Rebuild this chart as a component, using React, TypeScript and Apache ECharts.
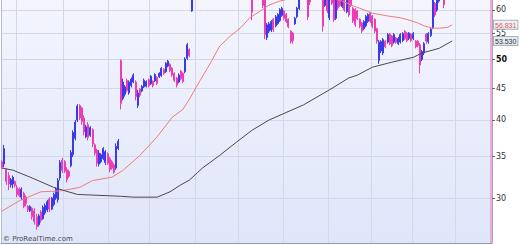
import React, { useEffect, useRef } from 'react';
import * as echarts from 'echarts';

// Daily bars (price); bars above the visible range are estimated.
const opens = [
  34.3, 34.0, 33.3, 32.6, 31.5, 31.6, 31.9, 31.2, 31.0, 30.1,
  30.5, 30.1, 29.1, 28.6, 28.9, 28.6, 28.0, 27.2, 28.5, 27.8,
  28.4, 28.7, 29.9, 28.8, 29.3, 30.0, 29.8, 32.3, 34.5, 34.3,
  33.3, 33.1, 33.8, 35.2, 37.4, 40.0, 42.2, 41.8, 40.3, 37.6,
  39.3, 37.8, 38.6, 36.5, 35.8, 34.0, 34.3, 34.7, 34.2, 35.3,
  34.7, 34.3, 33.9, 33.5, 36.0, 49.8, 43.3, 44.0, 46.3, 44.2,
  45.4, 46.0, 46.0, 42.2, 44.8, 44.5, 45.2, 45.3, 46.4, 45.7,
  46.1, 46.2, 46.8, 46.9, 47.1, 48.2, 47.8, 48.8, 49.1, 48.4,
  47.5, 46.7, 46.0, 47.9, 47.5, 47.8, 50.2, 51.9, 59.8, 64.5,
  65.5, 66.5, 66.0, 67.5, 68.5, 68.0, 69.5, 70.5, 70.0, 69.0,
  69.5, 70.5, 71.5, 70.5, 69.5, 68.5, 69.0, 67.5, 66.5, 67.0,
  66.0, 65.0, 65.5, 64.5, 65.0, 64.0, 64.0, 62.8, 64.5, 64.0,
  64.5, 63.5, 62.5, 54.2, 55.5, 55.7, 58.0, 56.6, 57.1, 57.7,
  58.8, 59.8, 59.1, 58.0, 55.5, 55.1, 57.0, 58.5, 60.3, 62.8,
  64.0, 64.5, 64.0, 62.8, 62.8, 64.0, 65.0, 65.5, 64.5, 63.5,
  61.0, 63.5, 58.3, 63.5, 62.5, 58.2, 63.0, 62.5, 60.8, 62.5,
  59.6, 62.5, 62.3, 60.4, 60.1, 59.8, 58.0, 57.2, 56.0, 56.6,
  57.5, 59.4, 58.7, 58.0, 56.0, 49.8, 51.6, 51.2, 53.5, 53.3,
  54.9, 54.5, 53.3, 54.1, 53.0, 53.3, 53.6, 55.5, 55.1, 54.0,
  54.9, 54.0, 53.5, 53.5, 52.8, 50.0, 51.2, 54.9, 53.4, 54.6,
  56.2, 61.5, 60.0, 62.0, 63.5, 64.0, 62.6, 63.5, 64.0, 63.5,
];
const highs = [
  34.5, 36.5, 33.5, 33.0, 32.3, 32.6, 32.0, 31.5, 31.2, 31.2,
  30.7, 30.3, 29.2, 29.2, 29.0, 28.9, 28.3, 28.3, 28.7, 29.2,
  29.4, 29.8, 30.1, 30.1, 30.6, 31.2, 32.3, 34.5, 34.8, 34.5,
  33.6, 33.3, 35.8, 38.5, 40.0, 42.4, 42.4, 42.0, 40.7, 39.3,
  39.7, 39.1, 38.8, 36.7, 36.0, 35.8, 35.4, 36.2, 35.8, 35.5,
  34.9, 34.5, 34.1, 36.7, 37.3, 50.0, 46.6, 45.5, 46.6, 46.3,
  46.8, 47.5, 46.3, 44.7, 45.0, 45.5, 46.6, 46.3, 46.6, 47.2,
  46.3, 47.5, 47.0, 47.7, 48.6, 48.4, 49.5, 49.9, 49.3, 48.6,
  47.7, 46.9, 47.5, 48.1, 47.7, 50.4, 53.1, 52.1, 65.5, 66.0,
  67.0, 67.5, 68.0, 69.0, 69.5, 70.0, 71.0, 71.5, 70.5, 70.0,
  71.0, 72.0, 72.0, 71.0, 70.0, 69.5, 69.5, 68.0, 67.5, 67.5,
  66.5, 66.0, 66.0, 65.5, 65.5, 65.0, 64.5, 65.0, 65.5, 65.0,
  65.0, 64.0, 63.0, 57.2, 57.4, 57.8, 58.2, 58.9, 59.3, 60.4,
  60.7, 60.0, 59.3, 58.2, 55.7, 55.3, 58.5, 60.7, 63.0, 64.5,
  65.0, 65.0, 64.5, 63.5, 64.5, 65.5, 66.0, 66.0, 65.0, 64.0,
  64.0, 64.0, 63.5, 64.0, 63.0, 63.0, 63.5, 63.0, 63.0, 63.0,
  63.0, 62.8, 62.5, 60.7, 60.4, 60.0, 58.2, 57.4, 57.8, 58.9,
  59.3, 59.6, 58.9, 58.2, 56.2, 53.7, 53.7, 54.1, 53.7, 55.1,
  55.1, 54.7, 55.1, 54.3, 54.3, 55.1, 55.3, 55.7, 55.3, 55.3,
  55.1, 55.3, 53.7, 53.7, 53.1, 51.8, 53.3, 55.1, 55.3, 56.2,
  63.0, 61.8, 63.0, 64.0, 65.0, 64.5, 64.0, 64.5, 65.0, 64.5,
];
const lows = [
  33.4, 33.6, 31.5, 30.9, 31.2, 31.1, 31.2, 30.1, 30.1, 29.8,
  28.9, 29.1, 28.5, 28.5, 27.7, 27.2, 26.7, 27.0, 27.4, 27.7,
  28.2, 28.5, 28.5, 28.7, 29.1, 29.8, 29.5, 32.0, 32.9, 32.9,
  31.8, 32.3, 33.6, 34.9, 37.1, 39.7, 40.0, 39.3, 37.8, 37.4,
  37.1, 37.6, 36.2, 35.1, 33.7, 33.7, 34.1, 34.5, 33.9, 33.9,
  33.0, 33.3, 32.8, 33.3, 35.8, 41.6, 43.0, 43.6, 44.3, 43.9,
  45.1, 45.8, 43.0, 41.8, 43.5, 44.3, 45.0, 45.1, 45.1, 45.5,
  45.1, 46.0, 45.5, 46.7, 46.9, 47.2, 47.6, 48.6, 47.7, 46.9,
  46.0, 45.1, 45.8, 46.3, 45.8, 47.5, 49.9, 50.4, 59.6, 63.8,
  64.8, 65.5, 65.5, 67.0, 67.5, 67.5, 69.0, 69.5, 68.5, 68.0,
  69.0, 70.0, 70.0, 69.0, 68.0, 67.5, 67.0, 66.0, 65.5, 65.5,
  64.5, 64.0, 64.0, 63.5, 63.5, 63.0, 57.8, 62.6, 63.5, 63.0,
  63.0, 60.4, 53.9, 53.7, 55.1, 55.3, 55.3, 56.3, 56.8, 57.4,
  58.5, 57.8, 57.2, 56.1, 53.0, 53.0, 56.8, 58.2, 60.0, 62.5,
  63.0, 63.5, 57.8, 61.1, 62.5, 63.5, 64.0, 64.0, 63.0, 55.4,
  60.7, 59.3, 57.8, 61.1, 57.4, 57.8, 60.0, 60.7, 60.4, 59.6,
  59.3, 58.5, 60.7, 57.2, 56.4, 57.8, 56.1, 55.1, 55.7, 56.3,
  57.2, 57.2, 56.1, 55.1, 53.0, 49.2, 51.2, 50.8, 52.1, 53.0,
  52.7, 52.3, 53.0, 53.0, 52.7, 53.0, 53.3, 53.7, 53.3, 53.7,
  53.3, 53.7, 52.1, 52.3, 47.5, 49.7, 50.8, 53.0, 53.0, 54.3,
  55.9, 58.5, 59.6, 61.6, 62.8, 60.4, 62.4, 62.8, 63.0, 62.6,
];
const closes = [
  33.6, 36.0, 31.9, 31.6, 32.1, 32.4, 31.4, 30.4, 30.3, 31.0,
  29.1, 29.4, 28.7, 29.1, 28.0, 27.5, 27.0, 28.1, 27.6, 29.0,
  29.2, 29.6, 28.8, 30.0, 30.4, 31.0, 32.0, 34.2, 33.2, 33.1,
  32.1, 32.5, 35.5, 38.2, 39.7, 42.1, 40.3, 39.8, 38.3, 39.0,
  37.5, 38.9, 36.6, 35.4, 34.1, 35.4, 35.2, 36.0, 35.6, 34.1,
  33.3, 33.5, 33.0, 36.3, 37.0, 42.5, 46.0, 45.2, 44.6, 46.0,
  46.5, 47.2, 43.6, 44.2, 43.8, 45.3, 46.3, 46.1, 45.4, 47.0,
  45.4, 47.3, 45.8, 47.5, 48.4, 47.5, 49.3, 49.7, 48.0, 47.2,
  46.3, 45.5, 47.2, 46.6, 46.1, 50.1, 52.8, 50.7, 64.5, 65.5,
  66.5, 66.0, 67.5, 68.5, 68.0, 69.5, 70.5, 70.0, 69.0, 69.5,
  70.5, 71.5, 70.5, 69.5, 68.5, 69.0, 67.5, 66.5, 67.0, 66.0,
  65.0, 65.5, 64.5, 65.0, 64.0, 64.5, 59.5, 64.5, 64.0, 64.5,
  63.5, 61.0, 54.8, 56.8, 57.0, 57.5, 55.8, 58.5, 59.0, 60.1,
  60.4, 58.2, 57.5, 56.4, 53.4, 53.6, 58.2, 60.4, 62.5, 64.0,
  64.5, 64.0, 58.5, 61.8, 64.0, 65.0, 65.5, 64.5, 63.5, 56.5,
  63.5, 59.8, 62.8, 61.5, 57.9, 62.5, 60.5, 61.0, 62.8, 60.0,
  62.5, 58.9, 61.0, 57.6, 56.8, 58.1, 56.5, 55.5, 57.5, 58.6,
  59.0, 57.6, 56.5, 55.5, 53.5, 53.3, 53.4, 53.8, 52.4, 54.8,
  53.0, 52.6, 54.8, 53.3, 54.0, 54.8, 55.0, 54.0, 53.6, 55.1,
  53.6, 55.0, 52.4, 52.6, 49.0, 51.5, 53.0, 53.5, 55.0, 55.9,
  62.5, 58.9, 62.5, 63.5, 64.5, 61.2, 63.5, 64.0, 63.5, 64.0,
];

// Moving averages read at sampled bar indices: [barIndex, price]
const maFast: [number, number][] = [
  [0, 28.6], [8, 29.7], [18, 30.7], [27, 30.8], [36, 31.2], [42, 32.0], [51, 32.4],
  [56, 33.2], [64, 35.1], [72, 37.6], [79, 40.4], [84, 41.6], [87, 43.2], [92, 46.3],
  [97, 49.5], [101, 52.5], [106, 54.5], [111, 56.3], [115, 58.3], [120, 59.8],
  [124, 61.1], [129, 62.0], [134, 62.6], [138, 63.0], [145, 63.0], [152, 62.7],
  [157, 62.2], [162, 61.1], [166, 60.4], [172, 59.3], [179, 58.7], [185, 58.3],
  [189, 57.8], [193, 57.2], [196, 56.6], [200, 56.1], [203, 56.1], [207, 56.3], [209, 56.831],
];
const maSlow: [number, number][] = [
  [0, 33.5], [5, 33.25], [14, 32.3], [24, 31.2], [28, 30.9], [35, 30.4], [45, 30.3],
  [55, 30.2], [61, 30.1], [72, 30.1], [77, 30.6], [78, 30.7], [83, 31.5], [87, 32.05],
  [93, 33.5], [101, 35.1], [109, 36.9], [116, 38.5], [124, 40.0], [140, 42.3],
  [152, 44.7], [161, 46.7], [165, 47.2], [172, 48.6], [181, 49.5], [191, 50.4],
  [195, 51.2], [203, 52.1], [209, 53.53],
];
const lastFast = 56.831;
const lastSlow = 53.53;

const slotCount = 228;
const categories = Array.from({ length: slotCount }, (_, i) => `D${i + 1}`);
const monthStarts = [7, 29, 50, 69, 90, 110, 131, 152, 172, 191, 211];
const tickLabels = [30, 35, 40, 45, 50, 55, 60];
const priceMin = 25.42;
const priceMax = 62.25;

const FONT = 'DejaVu Sans, Verdana, sans-serif';
const BOX_FONT = 'Liberation Sans, Arial, sans-serif';

export default function App() {
  const ref = useRef<HTMLDivElement>(null);
  useEffect(() => {
    if (!ref.current) return;
    const chart = echarts.init(ref.current, null, { renderer: 'svg' });
    const ln = Math.log;
    const tickVals = tickLabels.map((v) => ln(v));
    const candles = opens.map((o, i) => [ln(o), ln(closes[i]), ln(lows[i]), ln(highs[i])]);
    const lnMin = ln(priceMin);
    const lnMax = ln(priceMax);
    chart.setOption({
      animation: false,
      grid: {
        left: 1,
        right: 28,
        top: 0,
        bottom: 2,
        show: true,
        borderWidth: 0,
        outerBoundsMode: 'none',
        backgroundColor: new echarts.graphic.LinearGradient(0, 0, 0, 1, [
          { offset: 0, color: '#f4f5fd' },
          { offset: 1, color: '#dfe6fa' },
        ]),
      },
      xAxis: {
        type: 'category',
        data: categories,
        boundaryGap: true,
        axisLine: { show: true, lineStyle: { color: '#8d9bb2', width: 1 } },
        axisTick: { show: false },
        axisLabel: { show: false },
        splitLine: {
          show: true,
          interval: (idx: number) => monthStarts.includes(idx),
          lineStyle: { color: '#d2d8e8', width: 1 },
        },
      },
      yAxis: [
        {
          type: 'value',
          position: 'right',
          min: lnMin,
          max: lnMax,
          axisLine: { show: true, lineStyle: { color: '#9aa9c0', width: 1 } },
          axisTick: {
            show: true,
            customValues: tickVals,
            length: 3,
            lineStyle: { color: '#666' },
          },
          axisLabel: {
            show: true,
            customValues: tickVals,
            margin: 4,
            fontSize: 8,
            fontFamily: FONT,
            color: '#333',
            formatter: (v: number) => {
              const r = Math.round(Math.exp(v));
              return r === 50 ? `{b|${r}}` : `${r}`;
            },
            rich: { b: { fontSize: 8, fontWeight: 'bold', fontFamily: FONT, color: '#111' } },
          },
          splitLine: { show: true, lineStyle: { color: '#d2d8e8', width: 1 } },
        },
        {
          type: 'value',
          position: 'right',
          min: lnMin,
          max: lnMax,
          axisLine: { show: false },
          axisTick: { show: false },
          splitLine: { show: false },
          axisLabel: {
            show: true,
            customValues: [ln(lastFast), ln(lastSlow)],
            margin: 2,
            formatter: (v: number) =>
              Math.abs(v - ln(lastFast)) < 0.001
                ? `{r|${lastFast.toFixed(3)}}`
                : `{k|${lastSlow.toFixed(3)}}`,
            rich: {
              r: {
                fontSize: 7,
                fontFamily: BOX_FONT,
                color: '#e05a5a',
                backgroundColor: '#eef0f5',
                borderColor: '#a9b0bd',
                borderWidth: 1,
                padding: [1, 1, 0, 1],
              },
              k: {
                fontSize: 7,
                fontFamily: BOX_FONT,
                color: '#333',
                backgroundColor: '#e6eaf1',
                borderColor: '#a9b0bd',
                borderWidth: 1,
                padding: [1, 1, 0, 1],
              },
            },
          },
        },
        {
          type: 'value',
          position: 'left',
          min: lnMin,
          max: lnMax,
          axisLine: { show: true, lineStyle: { color: '#b0bccd', width: 1 } },
          axisTick: { show: false },
          axisLabel: { show: false },
          splitLine: { show: false },
        },
      ],
      series: [
        {
          type: 'candlestick',
          yAxisIndex: 0,
          data: candles,
          barWidth: 1.5,
          clip: true,
          itemStyle: {
            color: '#6464f2',
            color0: '#f27ad0',
            borderColor: '#3a3ae8',
            borderColor0: '#ee3cb4',
            borderWidth: 1,
          },
          markLine: {
            silent: true,
            symbol: 'none',
            label: { show: false },
            lineStyle: { color: '#f3a8d8', width: 2, type: 'solid' },
            data: [{ xAxis: categories[slotCount - 1] }],
          },
        },
        {
          type: 'line',
          yAxisIndex: 0,
          data: maFast.map(([i, v]) => [i, ln(v)]),
          showSymbol: false,
          symbol: 'none',
          clip: true,
          lineStyle: { color: '#f27a7a', width: 1 },
          z: 3,
        },
        {
          type: 'line',
          yAxisIndex: 0,
          data: maSlow.map(([i, v]) => [i, ln(v)]),
          showSymbol: false,
          symbol: 'none',
          clip: true,
          lineStyle: { color: '#4a4a4a', width: 1 },
          z: 3,
        },
      ],
      graphic: [
        {
          type: 'text',
          left: 3,
          top: 235,
          z: 10,
          style: {
            text: '© ProRealTime.com',
            fontSize: 7,
            fontFamily: FONT,
            fill: '#4a4a4a',
          },
        },
      ],
    });
    return () => chart.dispose();
  }, []);
  return (
    <div
      ref={ref}
      style={{ position: 'absolute', left: 0, top: 0, width: 520, height: 245 }}
    />
  );
}
